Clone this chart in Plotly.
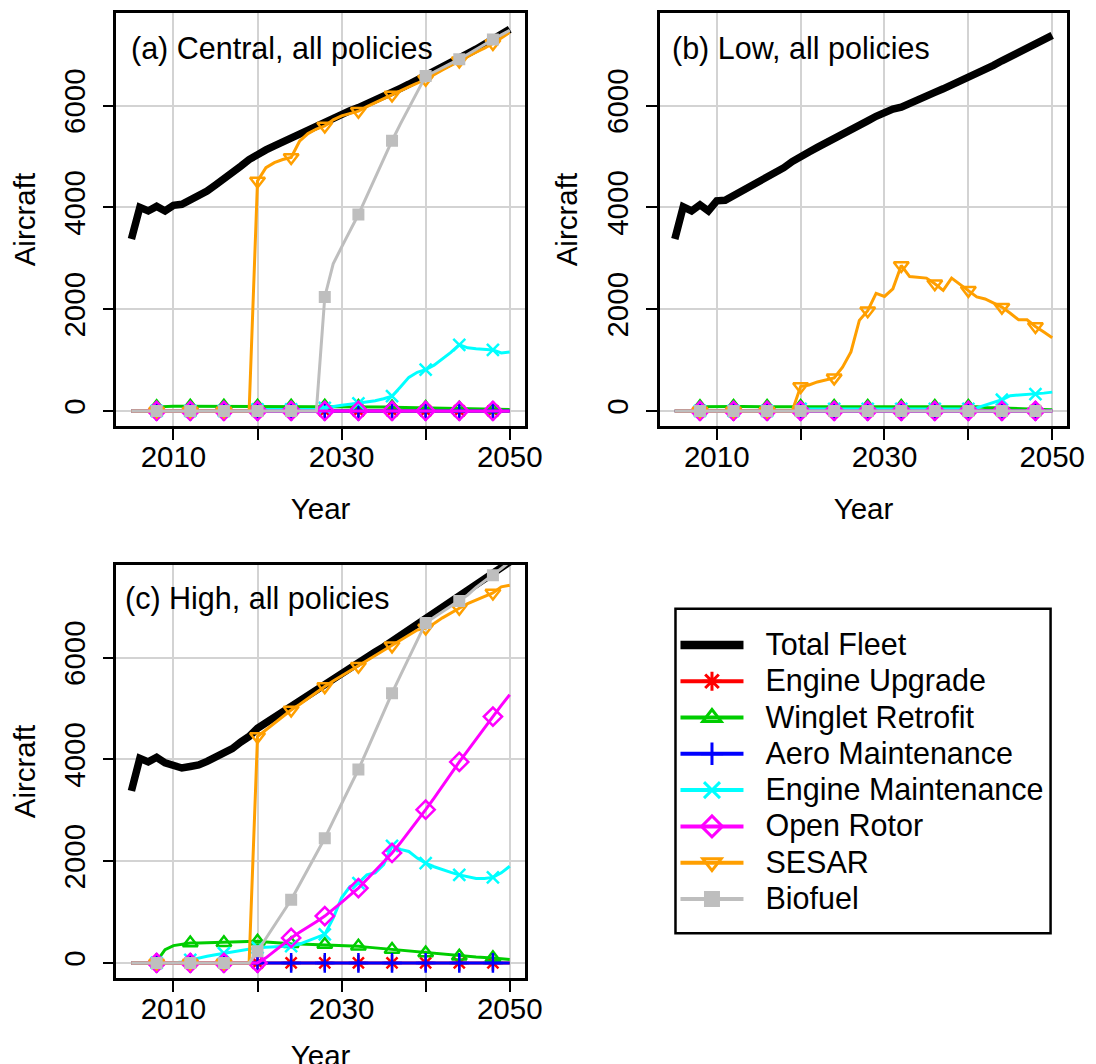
import plotly.graph_objects as go

years = list(range(2005, 2051))

# ---------------- Panel (a) Central, all policies ----------------
total_a = [3380, 4000, 3930, 4020, 3930, 4040, 4060, 4140, 4210, 4320,
           4440, 4550, 4680, 4810, 4940, 5050, 5130, 5210, 5290, 5360,
           5440, 5520, 5610, 5700, 5780, 5840, 5900, 5960, 6030, 6100,
           6180, 6260, 6340, 6420, 6500, 6580, 6660, 6750, 6840, 6930,
           7020, 7110, 7200, 7300, 7400, 7500]
engup_a = [0] * 46
winglet_a = [0, 0, 0, 80, 90, 90, 90, 90, 90, 90,
             90, 90, 90, 90, 90, 90, 90, 90, 90, 90,
             90, 90, 90, 90, 88, 88, 86, 85, 83, 80,
             78, 75, 72, 70, 67, 65, 62, 58, 54, 50,
             46, 42, 38, 35, 32, 30]
aero_a = [0] * 46
engmaint_a = [0, 0, 0, 0, 0, 0, 0, 0, 0, 0,
              0, 0, 0, 0, 0, 30, 30, 30, 30, 30,
              30, 30, 30, 60, 90, 110, 130, 150, 170, 200,
              240, 290, 470, 660, 760, 810, 900, 1030, 1150, 1300,
              1240, 1220, 1210, 1200, 1140, 1160]
rotor_a = [0] * 46
sesar_a = [0, 0, 0, 0, 0, 0, 0, 0, 0, 0,
           0, 0, 0, 0, 0, 4520, 4780, 4880, 4940, 4980,
           5300, 5450, 5540, 5600, 5720, 5800, 5850, 5890, 5980, 6060,
           6140, 6210, 6290, 6370, 6440, 6520, 6610, 6700, 6790, 6880,
           6960, 7050, 7130, 7220, 7330, 7440]
biofuel_a = [0, 0, 0, 0, 0, 0, 0, 0, 0, 0,
             0, 0, 0, 0, 0, 0, 0, 0, 0, 0,
             0, 0, 0, 2240, 2890, 3220, 3540, 3860, 4220, 4590,
             4950, 5310, 5640, 5960, 6280, 6580, 6660, 6750, 6830, 6910,
             7010, 7100, 7200, 7300, 7390, 7480]

# ---------------- Panel (b) Low, all policies ----------------
total_b = [3380, 4010, 3930, 4050, 3930, 4130, 4140, 4230, 4310, 4390,
           4480, 4580, 4680, 4780, 4900, 5010, 5090, 5180, 5260, 5340,
           5430, 5520, 5610, 5700, 5790, 5880, 5930, 5970, 6050, 6120,
           6190, 6260, 6330, 6400, 6480, 6550, 6630, 6710, 6790, 6880,
           6960, 7040, 7120, 7200, 7290, 7380]
engup_b = [0] * 46
winglet_b = [0, 0, 0, 80, 85, 85, 85, 85, 85, 85,
             85, 85, 85, 85, 85, 85, 85, 85, 85, 85,
             85, 85, 85, 85, 85, 85, 85, 85, 85, 85,
             85, 85, 85, 85, 85, 85, 80, 70, 62, 55,
             50, 45, 40, 35, 30, 25]
aero_b = [0] * 46
engmaint_b = [0, 0, 0, 0, 0, 0, 0, 0, 0, 0,
              0, 0, 0, 0, 0, 40, 40, 40, 40, 40,
              40, 40, 40, 40, 40, 40, 40, 40, 40, 40,
              40, 40, 40, 40, 40, 40, 60, 110, 160, 220,
              300, 310, 320, 330, 350, 370]
rotor_b = [0] * 46
sesar_b = [0, 0, 0, 0, 0, 0, 0, 0, 0, 0,
           0, 0, 0, 0, 0, 480, 510, 570, 610, 650,
           860, 1160, 1780, 1970, 2310, 2250, 2400, 2860, 2640, 2630,
           2610, 2500, 2370, 2610, 2490, 2370, 2240, 2200, 2120, 2040,
           1920, 1790, 1790, 1660, 1550, 1440]
biofuel_b = [0] * 46

# ---------------- Panel (c) High, all policies ----------------
total_c = [3380, 4020, 3950, 4040, 3930, 3860, 3830, 3860, 3890, 3960,
           4040, 4120, 4210, 4340, 4450, 4610, 4720, 4820, 4920, 5020,
           5130, 5240, 5360, 5480, 5590, 5690, 5800, 5900, 6000, 6110,
           6210, 6320, 6420, 6530, 6630, 6740, 6860, 6970, 7090, 7200,
           7300, 7400, 7520, 7640, 7760, 7880]
engup_c = [0] * 46
winglet_c = [0, 0, 0, 30, 260, 340, 370, 390, 390, 395,
             395, 395, 400, 410, 420, 425, 410, 395, 385, 375,
             370, 365, 362, 360, 350, 340, 335, 327, 310, 295,
             280, 262, 245, 228, 212, 196, 180, 163, 147, 131,
             122, 114, 106, 98, 80, 65]
aero_c = [0] * 46
engmaint_c = [0, 0, 0, 0, 0, 0, 20, 60, 100, 130,
              160, 190, 210, 240, 270, 300, 310, 320, 330, 330,
              370, 430, 500, 560, 880, 1280, 1500, 1570, 1730, 1770,
              1930, 2300, 2230, 2190, 2060, 1960, 1890, 1830, 1780, 1730,
              1690, 1660, 1660, 1680, 1770, 1900]
rotor_c = [0, 0, 0, 0, 0, 0, 0, 0, 0, 0,
           0, 0, 0, 0, 0, 0, 100, 230, 360, 490,
           600, 700, 810, 920, 1050, 1190, 1330, 1470, 1640, 1810,
           1980, 2160, 2360, 2570, 2790, 3010, 3240, 3480, 3710, 3950,
           4170, 4400, 4620, 4840, 5060, 5270]
sesar_c = [0, 0, 0, 0, 0, 0, 0, 0, 0, 0,
           0, 0, 0, 0, 0, 4450, 4580, 4720, 4850, 4970,
           5080, 5200, 5320, 5430, 5540, 5640, 5740, 5830, 5930, 6030,
           6130, 6230, 6340, 6440, 6540, 6580, 6670, 6780, 6880, 6970,
           7060, 7130, 7210, 7270, 7390, 7420]
biofuel_c = [0, 0, 0, 0, 0, 0, 0, 0, 0, 0,
             0, 0, 0, 0, 0, 230, 480, 740, 990, 1240,
             1540, 1840, 2150, 2450, 2790, 3120, 3460, 3800, 4170, 4550,
             4920, 5300, 5650, 5990, 6330, 6680, 6790, 6900, 7010, 7110,
             7230, 7380, 7500, 7620, 7750, 7880]

series_names = ["Total Fleet", "Engine Upgrade", "Winglet Retrofit", "Aero Maintenance",
                "Engine Maintenance", "Open Rotor", "SESAR", "Biofuel"]
panel_titles = ["(a) Central, all policies", "(b) Low, all policies", "(c) High, all policies"]
x_tick_vals = [2010, 2020, 2030, 2040, 2050]
x_tick_text = ["2010", "", "2030", "", "2050"]
y_tick_vals = [0, 2000, 4000, 6000]
y_tick_text = ["0", "2000", "4000", "6000"]

panels = [
    [total_a, engup_a, winglet_a, aero_a, engmaint_a, rotor_a, sesar_a, biofuel_a],
    [total_b, engup_b, winglet_b, aero_b, engmaint_b, rotor_b, sesar_b, biofuel_b],
    [total_c, engup_c, winglet_c, aero_c, engmaint_c, rotor_c, sesar_c, biofuel_c],
]

# styles
colors = ["#000000", "#FF0000", "#00CD00", "#0000FF", "#00FFFF", "#FF00FF", "#FF9F00", "#BEBEBE"]
symbols = [None, "asterisk-open", "triangle-up-open", "cross-thin-open", "x-thin-open",
           "diamond-open", "triangle-down-open", "square"]
msizes = [0, 13, 13, 14, 12, 14, 13, 12]
lwidths = [7.5, 3, 3, 3, 3, 3, 3, 3]

FONT = "Liberation Sans, Arial, Helvetica, sans-serif"
FS = 29.5
FT = 30.5
W, H = 1096, 1064


def xdom(l, r):
    return [l / W, r / W]


def ydom(t, b):
    return [1 - b / H, 1 - t / H]


boxes = [(110, 525, 5, 419), (662, 1076, 5, 419), (110, 525, 558, 972)]

fig = go.Figure()

for p, data in enumerate(panels):
    xa = "x" if p == 0 else f"x{p + 1}"
    ya = "y" if p == 0 else f"y{p + 1}"
    for i, vals in enumerate(data):
        fig.add_trace(go.Scatter(
            x=years, y=vals, mode="lines", xaxis=xa, yaxis=ya,
            line=dict(color=colors[i], width=lwidths[i], shape="linear"),
            showlegend=False, hoverinfo="skip"))
        if symbols[i] is not None:
            filled = symbols[i] == "square"
            fig.add_trace(go.Scatter(
                x=years[3::4], y=vals[3::4], mode="markers", xaxis=xa, yaxis=ya,
                marker=dict(symbol=symbols[i], size=msizes[i], color=colors[i],
                            line=dict(color=colors[i], width=0 if filled else 2.5)),
                showlegend=False, hoverinfo="skip"))

# legend entries
NB = "\u00a0\u00a0"
for i, name in enumerate(series_names):
    label = f'<span style="font-size:{FT}px">{NB}{name}</span>'
    if symbols[i] is None:
        fig.add_trace(go.Scatter(x=[None], y=[None], mode="lines", name=label,
                                 line=dict(color=colors[i], width=8.5), showlegend=True))
    else:
        filled = symbols[i] == "square"
        fig.add_trace(go.Scatter(x=[None], y=[None], mode="lines+markers", name=label,
                                 line=dict(color=colors[i], width=4),
                                 marker=dict(symbol=symbols[i], size=16, color=colors[i],
                                             line=dict(color=colors[i], width=0 if filled else 3)),
                                 showlegend=True))

layout = dict(
    width=W, height=H,
    margin=dict(l=0, r=0, t=0, b=0),
    paper_bgcolor="white", plot_bgcolor="white",
    font=dict(family=FONT, size=FS, color="black"),
    showlegend=True,
    legend=dict(x=678 / W, y=1 - 615 / H, xanchor="left", yanchor="top",
                bgcolor="rgba(0,0,0,0)", borderwidth=0,
                font=dict(family=FONT, size=25.6, color="black"),
                itemwidth=63, tracegroupgap=0),
)

for p, (l, r, t, b) in enumerate(boxes):
    xk = "xaxis" if p == 0 else f"xaxis{p + 1}"
    yk = "yaxis" if p == 0 else f"yaxis{p + 1}"
    xa = "x" if p == 0 else f"x{p + 1}"
    ya = "y" if p == 0 else f"y{p + 1}"
    layout[xk] = dict(
        domain=xdom(l, r), anchor=ya, range=[2003.2, 2051.8],
        tickmode="array", tickvals=x_tick_vals, ticktext=x_tick_text,
        ticks="outside", ticklen=11, tickwidth=2, tickcolor="black",
        showline=True, linecolor="black", linewidth=2.5, mirror=True,
        showgrid=True, gridcolor="#D3D3D3", gridwidth=1.5, zeroline=False,
        tickfont=dict(family=FONT, size=FS), ticklabelstandoff=-8,
        title=dict(text="Year", font=dict(family=FONT, size=FS), standoff=26),
    )
    layout[yk] = dict(
        domain=ydom(t, b), anchor=xa, range=[-300, 7820],
        tickmode="array", tickvals=y_tick_vals, ticktext=y_tick_text, tickangle=-90,
        ticks="outside", ticklen=11, tickwidth=2, tickcolor="black",
        showline=True, linecolor="black", linewidth=2.5, mirror=True,
        showgrid=True, gridcolor="#D3D3D3", gridwidth=1.5, zeroline=False,
        tickfont=dict(family=FONT, size=FS), ticklabelstandoff=6,
        title=dict(text="Aircraft", font=dict(family=FONT, size=FS), standoff=15),
    )

fig.update_layout(**layout)

annotations = []
title_pos = [(123, 41), (672, 41), (117, 592)]
for p, (tx, ty) in enumerate(title_pos):
    annotations.append(dict(
        text=panel_titles[p], xref="paper", yref="paper",
        x=tx / W, y=1 - ty / H, xanchor="left", yanchor="middle",
        showarrow=False, font=dict(family=FONT, size=FT, color="black")))
fig.update_layout(annotations=annotations)

# legend frame
fig.add_shape(type="rect", xref="paper", yref="paper",
              x0=678 / W, x1=1059 / W, y0=1 - 927 / H, y1=1 - 602 / H,
              line=dict(color="black", width=2.5), fillcolor="rgba(0,0,0,0)", layer="above")

fig.write_html("out.html")
